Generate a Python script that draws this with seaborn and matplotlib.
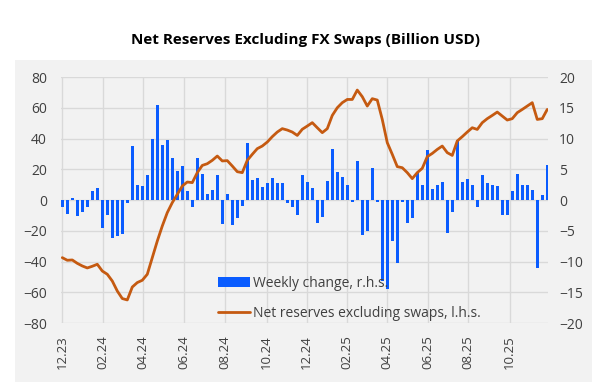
import numpy as np
import pandas as pd
import matplotlib
matplotlib.use("Agg")
import matplotlib.pyplot as plt
from matplotlib.patches import Rectangle, Patch
from matplotlib.lines import Line2D
import seaborn as sns

# weekly change (r.h.s., billion USD), one value per week
weekly_change = [-1.2, -2.2, 0.4, -2.6, -2.0, -1.2, 1.5, 1.9, -4.5, -2.4,
                 -6.25, -5.9, -5.5, -0.5, 8.7, 2.4, 2.3, 4.1, 10.0, 15.4,
                 9.0, 9.8, 6.8, 4.7, 5.6, 1.4, -1.1, 6.8, 4.3, 0.9,
                 1.6, 4.1, -3.9, 1.0, -4.1, -3.0, -1.0, 9.3, 3.2, 3.6,
                 2.1, 2.7, 3.6, 2.7, 2.7, -0.5, -1.1, -2.4, 4.1, 2.9,
                 1.9, -3.7, -2.7, 3.1, 8.3, 4.6, 3.7, 2.4, -0.3, 6.4,
                 -5.7, -5.1, 5.2, -0.4, -13.2, -14.5, -6.6, -10.3, -0.4, -3.8,
                 -3.0, 4.4, 2.5, 8.1, 1.8, 2.5, 3.0, -5.4, -1.9, 9.8,
                 2.9, 3.4, 2.4, -1.1, 4.1, 2.8, 2.5, 2.3, -2.5, -2.5,
                 1.5, 4.2, 2.4, 2.4, 1.6, -11.1, 0.8, 5.7]

# net reserves excluding swaps (l.h.s., billion USD)
net_reserves = [-37.5, -39.2, -39.0, -41.2, -42.9, -44.2, -43.1, -41.8, -46.2, -48.3,
                -52.7, -59.2, -64.1, -65.0, -56.6, -53.7, -52.2, -48.3, -37.5, -26.7,
                -16.9, -8.2, -1.7, 3.7, 9.1, 11.7, 11.3, 17.8, 22.5, 23.6,
                25.8, 28.6, 25.4, 25.6, 22.1, 18.4, 17.8, 25.8, 29.7, 33.4,
                35.1, 37.7, 41.2, 44.2, 46.4, 45.5, 44.2, 42.0, 46.0, 48.1,
                50.3, 47.0, 43.8, 46.4, 55.0, 60.0, 63.3, 65.4, 65.4, 71.5,
                67.2, 61.1, 65.9, 65.0, 52.4, 37.3, 29.7, 21.7, 21.0, 17.8,
                13.9, 17.8, 20.6, 28.2, 30.3, 32.9, 35.1, 30.8, 29.0, 38.4,
                41.2, 44.2, 47.0, 45.9, 50.3, 52.9, 55.0, 57.2, 54.6, 52.0,
                52.9, 56.8, 58.9, 61.1, 63.3, 52.4, 52.9, 58.9]

tick_labels = ['12.23', '02.24', '04.24', '06.24', '08.24', '10.24',
               '12.24', '02.25', '04.25', '06.25', '08.25', '10.25']
tick_weeks = [-0.1, 8.1, 16.2, 24.3, 32.5, 40.9, 48.9, 56.9, 65.0, 73.1, 81.2, 89.5]

df = pd.DataFrame({'week': np.arange(len(weekly_change)),
                   'change': weekly_change,
                   'net': net_reserves})

BLUE = '#0a5cff'
ORANGE = '#c55a11'
BG = '#f2f2f2'
GRID = '#d9d9d9'
TXT = '#404040'

sns.set_style("white")
plt.rcParams['font.family'] = ['Open Sans', 'DejaVu Sans']

W, H = 609, 392
fig = plt.figure(figsize=(W / 100, H / 100), dpi=100, facecolor='white')
# grey chart area, kept below both axes
fig.patches.append(Rectangle((15 / W, 1 - 382 / H), (592 - 15) / W, (382 - 60) / H,
                             transform=fig.transFigure, facecolor=BG,
                             edgecolor='none', zorder=-5))

ax = fig.add_axes([61 / W, 1 - 323 / H, (548 - 61) / W, (323 - 77) / H])
ax2 = ax.twinx()
ax2.set_zorder(1)
ax.set_zorder(2)
ax.patch.set_visible(False)
ax2.patch.set_visible(False)

# bars on the right axis
sns.barplot(data=df, x='week', y='change', native_scale=True, ax=ax2,
            color=BLUE, width=0.66, errorbar=None, saturation=1, linewidth=0)
# line on the left axis
sns.lineplot(data=df, x='week', y='net', ax=ax, color=ORANGE, linewidth=2)

ax.set_xlim(-0.26, 97.15)
ax.set_ylim(-80, 80)
ax2.set_ylim(-20, 20)
ax.set_yticks(range(-80, 81, 20))
ax2.set_yticks(range(-20, 21, 5))
ax.set_xticks(tick_weeks)
ax.set_xticklabels(tick_labels, rotation=90)

ax.grid(False)
ax2.grid(True, axis='y', color=GRID, linewidth=1)
for t in tick_weeks:
    ax2.axvline(t, color=GRID, linewidth=1, zorder=0)
ax2.set_axisbelow(True)

for a in (ax, ax2):
    for s in a.spines.values():
        s.set_visible(False)
    a.set_xlabel('')
    a.set_ylabel('')
    a.tick_params(length=0, labelsize=10, colors=TXT)
ax.tick_params(axis='y', pad=10)
ax2.tick_params(axis='y', pad=8)
ax.tick_params(axis='x', pad=9, labelsize=9.5)

fig.text(305 / W, 1 - 40 / H, 'Net Reserves Excluding FX Swaps (Billion USD)',
         ha='center', va='center', fontsize=11, fontweight='bold', color='black')

handles = [Patch(facecolor=BLUE, edgecolor='none'),
           Line2D([], [], color=ORANGE, linewidth=2)]
ax.legend(handles, ['Weekly change, r.h.s.', 'Net reserves excluding swaps, l.h.s.'],
          loc='upper left', bbox_to_anchor=(211 / W, 1 - 269 / H),
          bbox_transform=fig.transFigure, frameon=False, fontsize=10,
          handlelength=2.3, handletextpad=0.25, labelspacing=1.05,
          borderpad=0, labelcolor=TXT)

fig.savefig('out.png', dpi=100, facecolor='white')
